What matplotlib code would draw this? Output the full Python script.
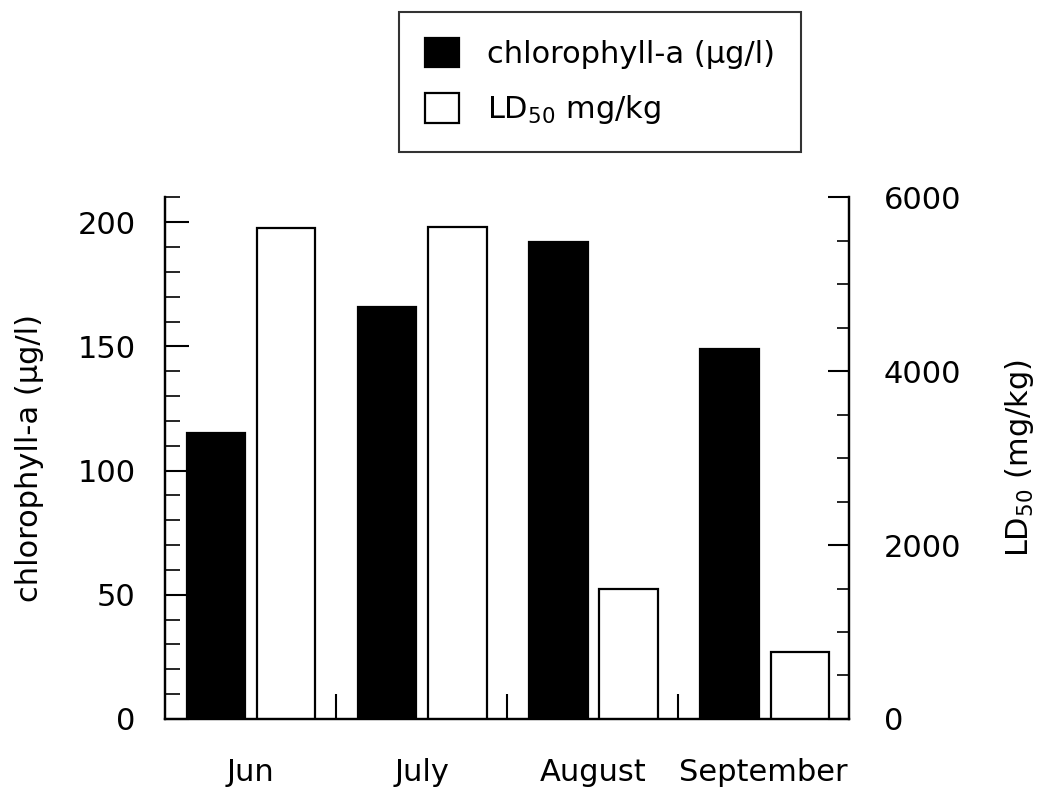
import numpy as np
import matplotlib
matplotlib.use('agg')
import matplotlib.pyplot as plt
from matplotlib.ticker import MultipleLocator

plt.rcParams['font.family'] = ['DejaVu Sans']
plt.rcParams['mathtext.default'] = 'regular'

# data
months = ['Jun', 'July', 'August', 'September']
chlorophyll = [115, 166, 192, 149]      # ug/l, left axis
ld50 = [5650, 5660, 1500, 770]          # mg/kg, right axis

fig = plt.figure(figsize=(10.37, 7.94), dpi=100)
ax = fig.add_axes([0.159, 0.0945, 0.660, 0.657])
ax2 = ax.twinx()

x = np.arange(len(months))
w = 0.34
b1 = ax.bar(x + 0.30, chlorophyll, w, color='black', edgecolor='black', linewidth=1.6,
            label='chlorophyll-a (µg/l)')
b2 = ax2.bar(x + 0.71, ld50, w, color='white', edgecolor='black', linewidth=1.6,
             label='LD$_{50}$ mg/kg')

ax.set_xlim(0, 4)
ax.set_ylim(0, 210)
ax2.set_ylim(0, 6000)

for a in (ax, ax2):
    a.spines['top'].set_visible(False)
    for s in ('left', 'right', 'bottom'):
        a.spines[s].set_linewidth(1.6)

# left axis ticks
ax.yaxis.set_major_locator(MultipleLocator(50))
ax.yaxis.set_minor_locator(MultipleLocator(10))
ax.tick_params(axis='y', which='major', direction='in', length=17, width=1.5,
               labelsize=22, pad=21)
ax.tick_params(axis='y', which='minor', direction='in', length=11, width=1.2)

# right axis ticks
ax2.yaxis.set_major_locator(MultipleLocator(2000))
ax2.yaxis.set_minor_locator(MultipleLocator(500))
ax2.tick_params(axis='y', which='major', direction='in', length=15, width=1.5,
                labelsize=22, pad=25)
ax2.tick_params(axis='y', which='minor', direction='in', length=9, width=1.2)

# x axis: separators between months, names centred in groups
ax.set_xticks([1, 2, 3])
ax.set_xticklabels([])
ax.set_xticks(x + 0.5, minor=True)
ax.set_xticklabels(months, minor=True)
ax.tick_params(axis='x', which='major', direction='in', length=18, width=1.5)
ax.tick_params(axis='x', which='minor', length=0, labelsize=22, pad=28)

ax.set_ylabel('chlorophyll-a (µg/l)', fontsize=22)
ax.yaxis.set_label_coords(-0.177, 0.5)
ax2.set_ylabel('LD$_{50}$ (mg/kg)', fontsize=22)
ax2.yaxis.set_label_coords(1.224, 0.5)

leg = fig.legend(handles=[b1, b2], loc='upper center', bbox_to_anchor=(0.5786, 0.985),
                 fontsize=22, frameon=True, fancybox=False, handlelength=1.1,
                 handleheight=1.1, handletextpad=0.9, borderpad=0.85, labelspacing=0.8,
                 borderaxespad=0)
leg.get_frame().set_edgecolor('black')
leg.get_frame().set_linewidth(1.5)

fig.savefig('out.png', dpi=100)
